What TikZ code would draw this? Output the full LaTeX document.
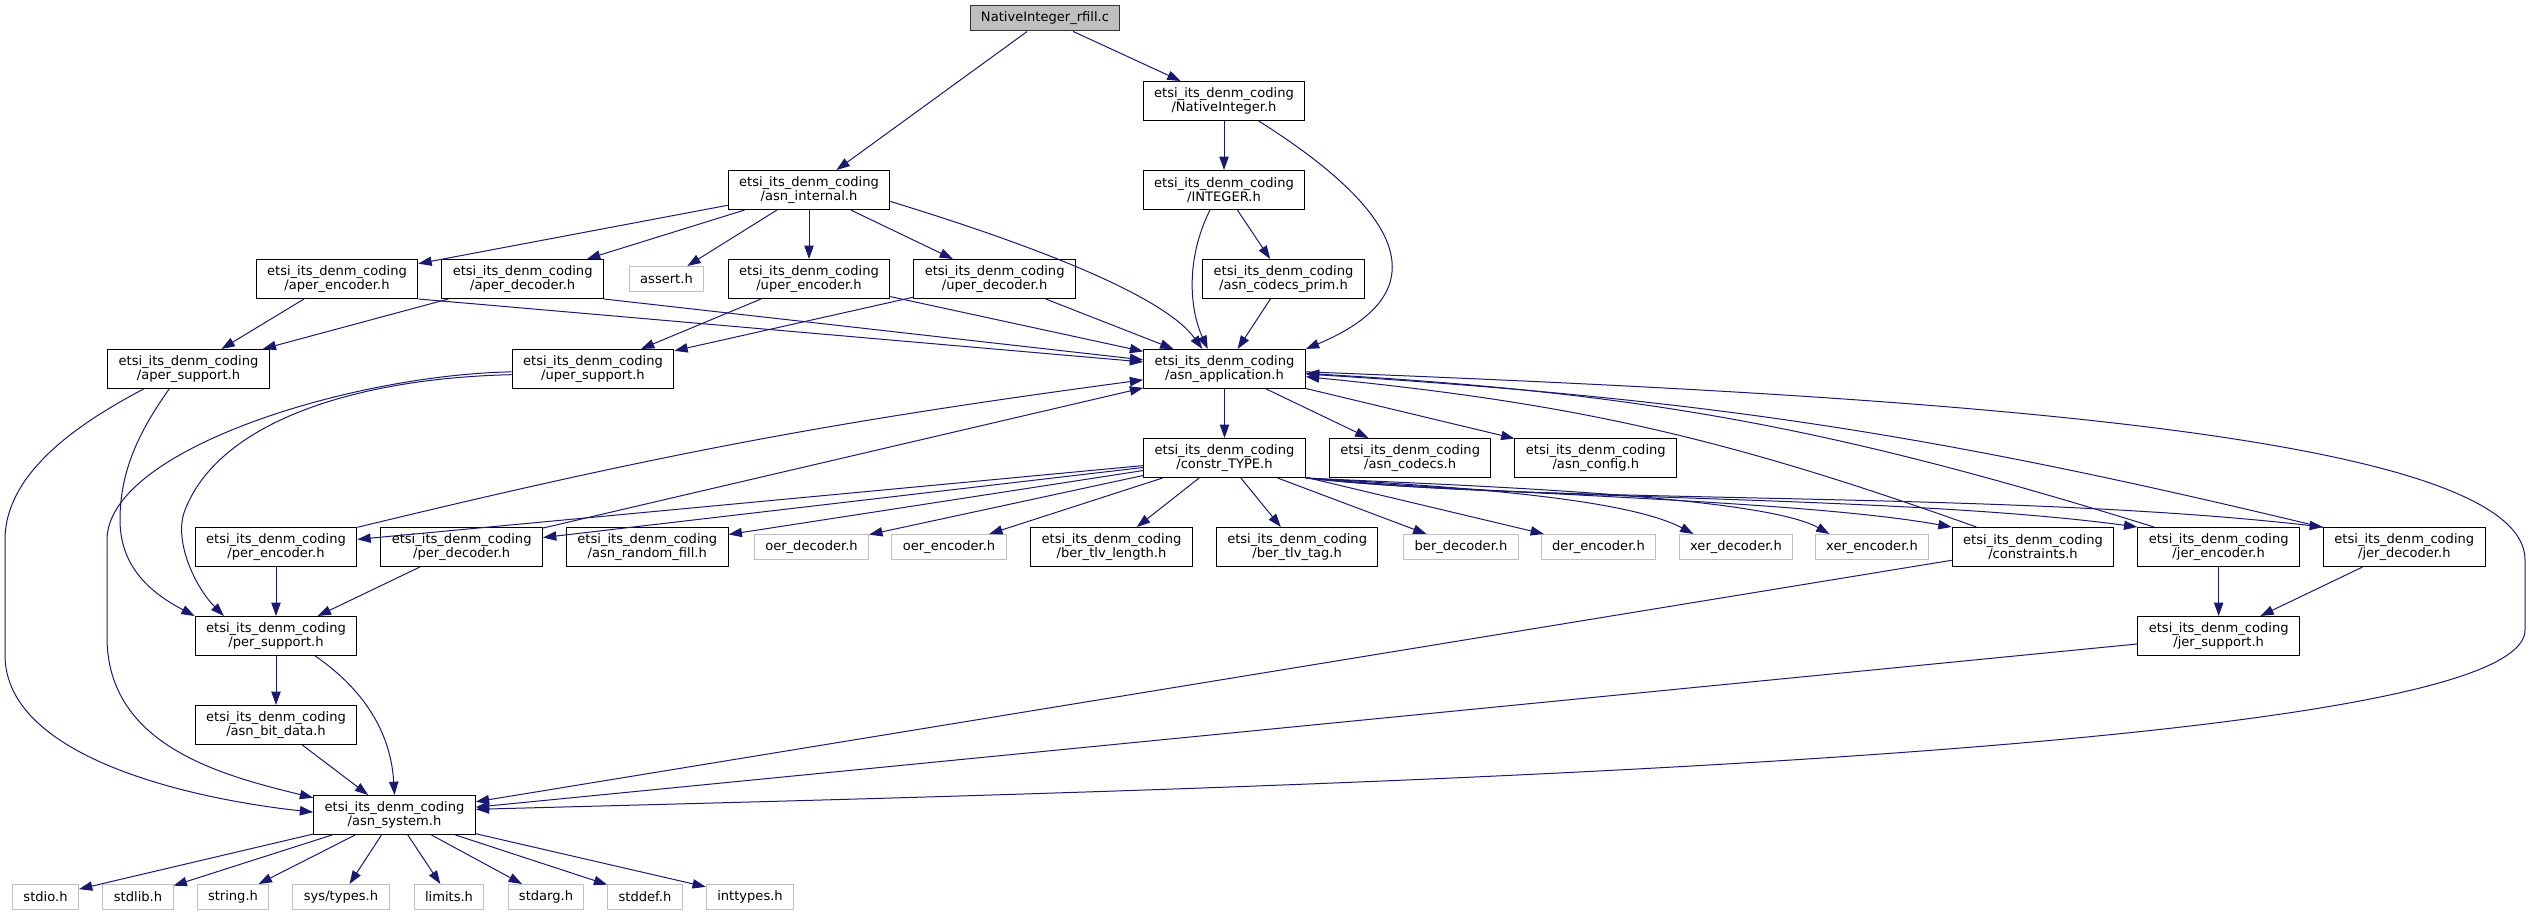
\documentclass[tikz,border=0pt]{standalone}
\usepackage{fontspec}
\setmainfont{DejaVu Sans}
\usepackage{tikz}
\usetikzlibrary{arrows.meta, positioning}
\definecolor{linkblue}{HTML}{191970}
\definecolor{nodocgray}{HTML}{BFBFBF}

\begin{document}
\begin{tikzpicture}[
            x=0.75pt, y=-0.75pt,
            node distance=36.75pt and 17.25pt,
            every node/.style={font=\fontsize{9.8}{10.6}\selectfont, inner xsep=8.2pt, inner ysep=1pt, line width=0.75pt},
            filebox/.style={rectangle, draw=black, fill=white, align=center, minimum height=29.25pt},
            grayfilebox/.style={rectangle, draw=nodocgray, fill=white, minimum height=18.75pt},
            rootbox/.style={rectangle, draw=black!80, fill=nodocgray, minimum height=18.75pt},
            link/.style={-{Triangle[length=10pt, width=7pt]}, draw=linkblue, line width=0.75pt},
            ]
            \useasboundingbox (0,0) rectangle (2531,916);

            \node[rootbox]      (rfill)   at (1045,18.5) {NativeInteger\_rfill.c};
            \node[filebox]      (nint)    at (1224,101) {etsi\_its\_denm\_coding\\/NativeInteger.h};
            \node[filebox]      (integer) [below=of nint] {etsi\_its\_denm\_coding\\/INTEGER.h};
            \node[filebox]      (asnint)  at (809,190) {etsi\_its\_denm\_coding\\/asn\_internal.h};

            \node[filebox]      (apenc)   at (337,279) {etsi\_its\_denm\_coding\\/aper\_encoder.h};
            \node[filebox]      (apdec)   [right=of apenc] {etsi\_its\_denm\_coding\\/aper\_decoder.h};
            \node[grayfilebox]  (assert)  at (666.5,279) {assert.h};
            \node[filebox]      (upenc)   [below=of asnint] {etsi\_its\_denm\_coding\\/uper\_encoder.h};
            \node[filebox]      (updec)   [right=of upenc] {etsi\_its\_denm\_coding\\/uper\_decoder.h};
            \node[filebox]      (codprim) at (1283.5,279) {etsi\_its\_denm\_coding\\/asn\_codecs\_prim.h};

            \node[filebox]      (apsup)   at (188.5,369) {etsi\_its\_denm\_coding\\/aper\_support.h};
            \node[filebox]      (upsup)   at (593,369) {etsi\_its\_denm\_coding\\/uper\_support.h};
            \node[filebox]      (asnapp)  at (1224.5,369) {etsi\_its\_denm\_coding\\/asn\_application.h};

            \node[filebox]      (ctype)   [below=of asnapp] {etsi\_its\_denm\_coding\\/constr\_TYPE.h};
            \node[filebox]      (codecs)  [right=of ctype] {etsi\_its\_denm\_coding\\/asn\_codecs.h};
            \node[filebox]      (config)  [right=of codecs] {etsi\_its\_denm\_coding\\/asn\_config.h};

            \node[filebox]      (perenc)  at (276,547) {etsi\_its\_denm\_coding\\/per\_encoder.h};
            \node[filebox]      (perdec)  [right=of perenc] {etsi\_its\_denm\_coding\\/per\_decoder.h};
            \node[filebox]      (rndfill) [right=of perdec] {etsi\_its\_denm\_coding\\/asn\_random\_fill.h};
            \node[grayfilebox]  (oerdec)  at (811.5,547) {oer\_decoder.h};
            \node[grayfilebox]  (oerenc)  at (949,547) {oer\_encoder.h};
            \node[filebox]      (tlvlen)  at (1111.5,547) {etsi\_its\_denm\_coding\\/ber\_tlv\_length.h};
            \node[filebox]      (tlvtag)  [right=of tlvlen] {etsi\_its\_denm\_coding\\/ber\_tlv\_tag.h};
            \node[grayfilebox]  (berdec)  at (1461,547) {ber\_decoder.h};
            \node[grayfilebox]  (derenc)  at (1598.5,547) {der\_encoder.h};
            \node[grayfilebox]  (xerdec)  at (1736,547) {xer\_decoder.h};
            \node[grayfilebox]  (xerenc)  at (1872,547) {xer\_encoder.h};
            \node[filebox]      (constr)  at (2033,547) {etsi\_its\_denm\_coding\\/constraints.h};
            \node[filebox]      (jerenc)  [right=of constr] {etsi\_its\_denm\_coding\\/jer\_encoder.h};
            \node[filebox]      (jerdec)  [right=of jerenc] {etsi\_its\_denm\_coding\\/jer\_decoder.h};

            \node[filebox]      (persup)  [below=of perenc] {etsi\_its\_denm\_coding\\/per\_support.h};
            \node[filebox]      (jersup)  [below=of jerenc] {etsi\_its\_denm\_coding\\/jer\_support.h};
            \node[filebox]      (bitdata) [below=of persup] {etsi\_its\_denm\_coding\\/asn\_bit\_data.h};
            \node[filebox]      (asnsys)  at (394.5,815) {etsi\_its\_denm\_coding\\/asn\_system.h};

            \node[grayfilebox]  (stdio)    at (45.5,897) {stdio.h};
            \node[grayfilebox]  (stdlib)   at (138,897) {stdlib.h};
            \node[grayfilebox]  (string)   at (233,897) {string.h};
            \node[grayfilebox]  (systypes) at (341,897) {sys/types.h};
            \node[grayfilebox]  (limits)   at (449,897) {limits.h};
            \node[grayfilebox]  (stdarg)   at (546,897) {stdarg.h};
            \node[grayfilebox]  (stddef)   at (645,897) {stddef.h};
            \node[grayfilebox]  (inttypes) at (750,897) {inttypes.h};

            \draw[link] (rfill) -- (asnint);
            \draw[link] (rfill) -- (nint);
            \draw[link] (nint) -- (integer);
            \draw[link] (nint.-30) .. controls (1400,210) and (1444,291) .. (asnapp.north east);
            \draw[link] (integer) -- (codprim);
            \draw[link] (integer.-125) .. controls (1185,260) and (1190,310) .. (asnapp.130);
            \draw[link] (codprim) -- (asnapp);

            \draw[link] (asnint) -- (apenc);
            \draw[link] (asnint) -- (apdec);
            \draw[link] (asnint) -- (assert);
            \draw[link] (asnint) -- (upenc);
            \draw[link] (asnint) -- (updec);
            \draw[link] (asnint.-8) .. controls (1000,235) and (1160,290) .. (asnapp.138);

            \draw[link] (apenc) -- (apsup);
            \draw[link] (apenc.south east) -- (asnapp);
            \draw[link] (apdec) -- (apsup);
            \draw[link] (apdec.south east) -- (asnapp);
            \draw[link] (upenc) -- (upsup);
            \draw[link] (upenc) -- (asnapp);
            \draw[link] (updec) -- (upsup);
            \draw[link] (updec) -- (asnapp);

            \draw[link] (apsup.-134) .. controls (140,430) and (120,470) .. (120,520) .. controls (120,570) and (155,595) .. (persup.north west);
            \draw[link] (apsup.-156) .. controls (85,420) and (5,470) .. (5,540) -- (5,655) .. controls (5,760) and (200,800) .. (asnsys.178);
            \draw[link] (upsup.-176) .. controls (360,378) and (220,420) .. (185,510) .. controls (173,540) and (195,587) .. (persup.159);
            \draw[link] (upsup.-178) .. controls (350,375) and (107,450) .. (107,540) -- (107,637) .. controls (107,745) and (220,775) .. (asnsys.168);

            \draw[link] (asnapp) -- (ctype);
            \draw[link] (asnapp) -- (codecs);
            \draw[link] (asnapp) -- (config);
            \draw[link] (asnapp.-2) .. controls (1900,395) and (2525,430) .. (2525,560) -- (2525,630) .. controls (2525,760) and (1200,790) .. (asnsys.4);

            \draw[link] (ctype) -- (perenc);
            \draw[link] (ctype) -- (perdec);
            \draw[link] (ctype) -- (rndfill);
            \draw[link] (ctype) -- (oerdec);
            \draw[link] (ctype) -- (oerenc);
            \draw[link] (ctype) -- (tlvlen);
            \draw[link] (ctype) -- (tlvtag);
            \draw[link] (ctype) -- (berdec);
            \draw[link] (ctype) -- (derenc);
            \draw[link] (ctype.south east) .. controls (1420,485) and (1620,495) .. (xerdec.163);
            \draw[link] (ctype.south east) .. controls (1450,485) and (1760,495) .. (xerenc.163);
            \draw[link] (ctype.south east) .. controls (1500,495) and (1800,500) .. (constr.north west);
            \draw[link] (ctype.south east) .. controls (1500,500) and (1900,495) .. (jerenc.north west);
            \draw[link] (ctype.south east) .. controls (1550,505) and (2000,490) .. (jerdec.north west);

            \draw[link] (perenc) to[bend left=3] (asnapp);
            \draw[link] (perenc) -- (persup);
            \draw[link] (perdec) -- (asnapp);
            \draw[link] (perdec) -- (persup);
            \draw[link] (constr) to[bend right=7] (asnapp);
            \draw[link] (constr) -- (asnsys);
            \draw[link] (jerenc) to[bend right=7] (asnapp);
            \draw[link] (jerenc) -- (jersup);
            \draw[link] (jerdec) to[bend right=5] (asnapp);
            \draw[link] (jerdec) -- (jersup);
            \draw[link] (jersup) -- (asnsys);

            \draw[link] (persup) -- (bitdata);
            \draw[link] (persup.-27) .. controls (350,680) and (390,720) .. (asnsys.north);
            \draw[link] (bitdata) -- (asnsys);

            \draw[link] (asnsys) -- (stdio);
            \draw[link] (asnsys) -- (stdlib);
            \draw[link] (asnsys) -- (string);
            \draw[link] (asnsys) -- (systypes);
            \draw[link] (asnsys) -- (limits);
            \draw[link] (asnsys) -- (stdarg);
            \draw[link] (asnsys) -- (stddef);
            \draw[link] (asnsys) -- (inttypes);
        \end{tikzpicture}
\end{document}
